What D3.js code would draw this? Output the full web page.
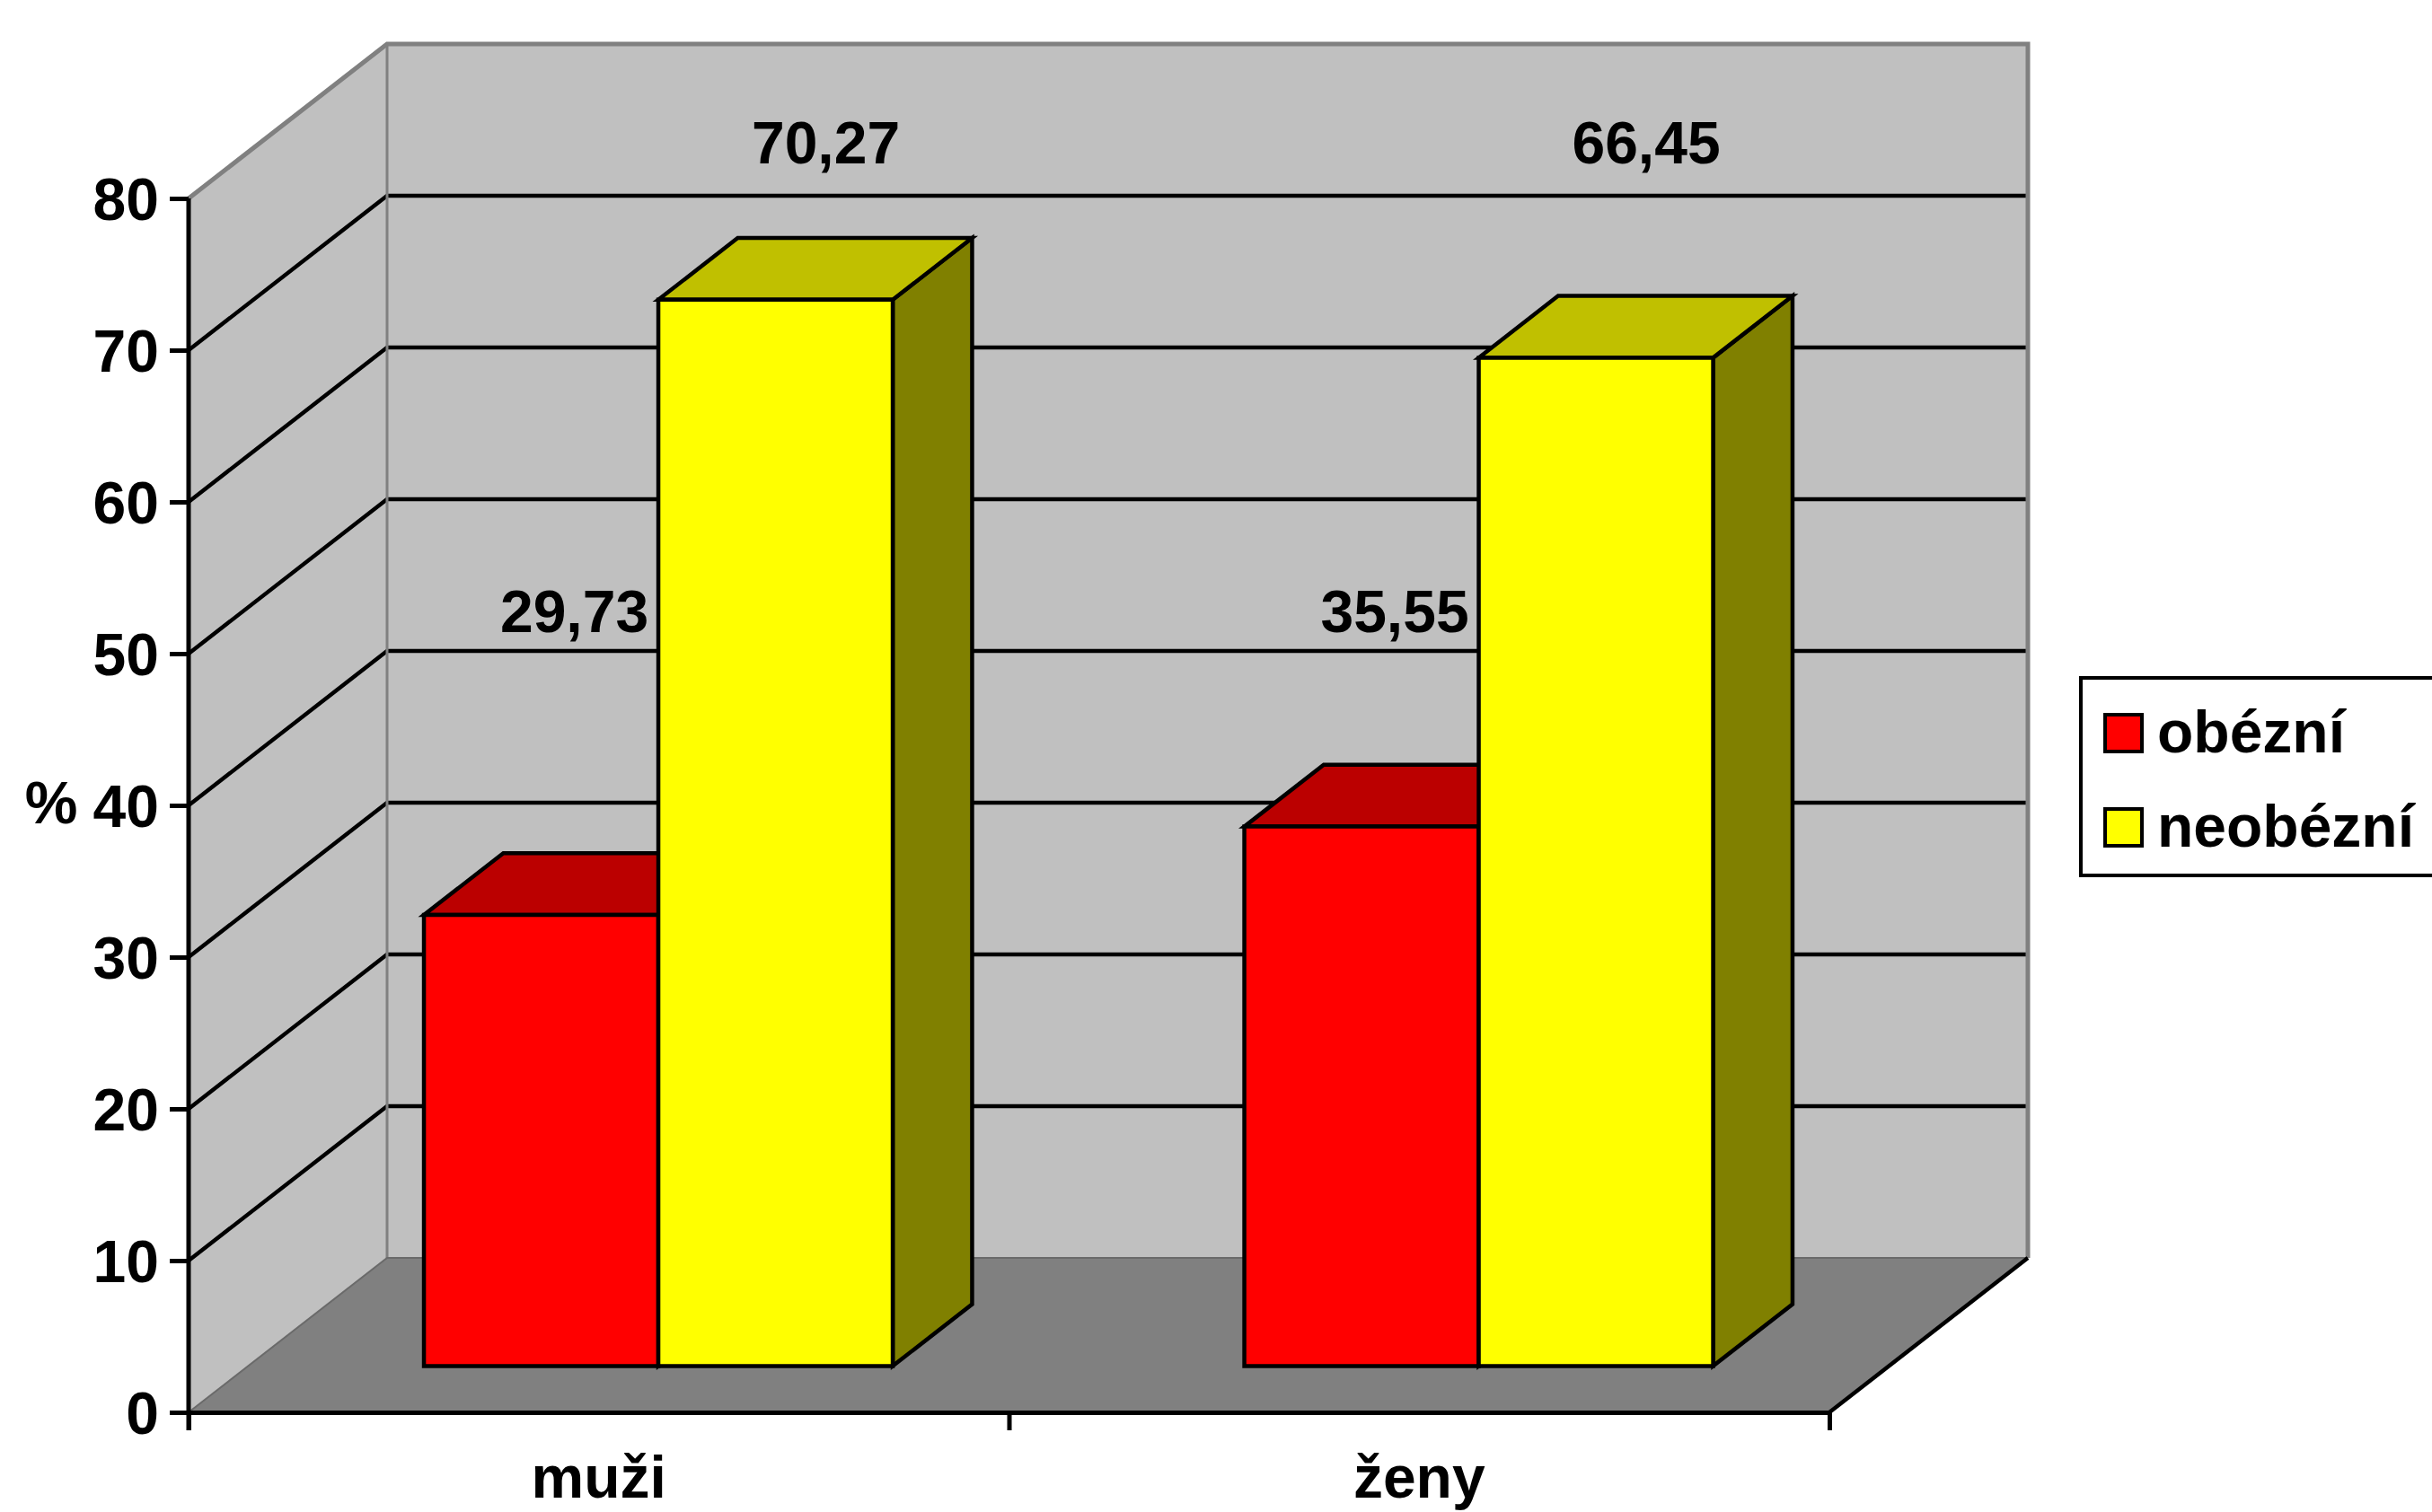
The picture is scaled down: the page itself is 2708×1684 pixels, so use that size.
<!DOCTYPE html>
<html>
<head>
<meta charset="utf-8">
<script src="https://cdn.jsdelivr.net/npm/d3@7"></script>
<style>
  html, body { margin: 0; padding: 0; background: #fff; }
  svg { display: block; }
  text { font-family: "Liberation Sans", Arial, sans-serif; font-weight: bold; fill: #000; }
</style>
</head>
<body>
<svg id="chart" width="2708" height="1684"></svg>
<script>
// Podíl obézních a neobézních osob podle pohlaví (%)
const categories = ["muži", "ženy"];
const seriesNames = ["obézní", "neobézní"];
const obezni = [29.73, 35.55];
const neobezni = [70.27, 66.45];
const yTicks = [0, 10, 20, 30, 40, 50, 60, 70, 80];

const seriesValues = [obezni, neobezni];
const seriesFill = ["#ff0000", "#ffff00"];
const seriesTop = ["#bb0000", "#c0c000"];
const seriesSide = ["#800000", "#808000"];

const czech = d3.formatLocale({ decimal: ",", thousands: " ", grouping: [3], currency: ["", " Kč"] });
const fmt = czech.format(".2f");

const svg = d3.select("#chart");
const W = 2708, H = 1684;
svg.append("rect").attr("width", W).attr("height", H).attr("fill", "#fff");

// front plane of the plot box
const X0 = 210, X1 = 2037;
const y = d3.scaleLinear().domain([0, 80]).range([1573, 221]);
// oblique depth vector (front -> back of the box)
const DX = 221, DY = -172;
const BAR_FRONT = 0.3, BAR_DEPTH = 0.4;

const x = d3.scaleBand().domain(categories).range([X0, X1]).padding(0);
const xs = d3.scaleBand().domain(seriesNames).range([0, x.bandwidth()])
  .paddingInner(0).paddingOuter(0.75);

const shift = (p, f) => [p[0] + f * DX, p[1] + f * DY];
const poly = pts => "M" + pts.map(p => p.join(",")).join("L") + "Z";
const line = d3.line();

const yTop = y(80), yBase = y(0);

// side wall
svg.append("path")
  .attr("d", poly([[X0, yBase], [X0, yTop], shift([X0, yTop], 1), shift([X0, yBase], 1)]))
  .attr("fill", "#c0c0c0");
// back wall
svg.append("path")
  .attr("d", poly([shift([X0, yTop], 1), shift([X1, yTop], 1), shift([X1, yBase], 1), shift([X0, yBase], 1)]))
  .attr("fill", "#c0c0c0");

// gridlines across the side and back walls
const grid = svg.append("g");
yTicks.filter(v => v > 0 && v < 80).forEach(v => {
  grid.append("path")
    .attr("d", line([[X0, y(v)], shift([X0, y(v)], 1), shift([X1, y(v)], 1)]))
    .attr("fill", "none").attr("stroke", "#000").attr("stroke-width", 4.5);
});

// wall edges
svg.append("path")
  .attr("d", line([[X0, yTop], shift([X0, yTop], 1), shift([X1, yTop], 1), shift([X1, yBase], 1)]))
  .attr("fill", "none").attr("stroke", "#808080").attr("stroke-width", 5)
  .attr("stroke-linejoin", "miter");
svg.append("path")
  .attr("d", line([shift([X0, yTop], 1), shift([X0, yBase], 1)]))
  .attr("stroke", "#808080").attr("stroke-width", 3);

// floor
svg.append("path")
  .attr("d", poly([[X0, yBase], [X1, yBase], shift([X1, yBase], 1), shift([X0, yBase], 1)]))
  .attr("fill", "#808080");
svg.append("path")
  .attr("d", line([[X0, yBase], shift([X0, yBase], 1), shift([X1, yBase], 1)]))
  .attr("fill", "none").attr("stroke", "#6a6a6a").attr("stroke-width", 2);
svg.append("path")
  .attr("d", line([[X1, yBase], shift([X1, yBase], 1)]))
  .attr("stroke", "#000").attr("stroke-width", 4.5);

// bars
const bars = svg.append("g");
categories.forEach((c, i) => {
  seriesNames.forEach((s, j) => {
    const v = seriesValues[j][i];
    const xl = x(c) + xs(s), xr = xl + xs.bandwidth();
    const fl = shift([xl, y(0)], BAR_FRONT), fr = shift([xr, y(0)], BAR_FRONT);
    const tl = shift([xl, y(v)], BAR_FRONT), tr = shift([xr, y(v)], BAR_FRONT);
    const d = BAR_DEPTH;
    const g = bars.append("g")
      .attr("stroke", "#000").attr("stroke-width", 4.5).attr("stroke-linejoin", "miter");
    g.append("path").attr("d", poly([fr, tr, shift(tr, d), shift(fr, d)])).attr("fill", seriesSide[j]);
    g.append("path").attr("d", poly([tl, tr, shift(tr, d), shift(tl, d)])).attr("fill", seriesTop[j]);
    g.append("path").attr("d", poly([fl, tl, tr, fr])).attr("fill", seriesFill[j]);
  });
});

// value labels
const labelLevel = [51.4, 82.3];
const labelNudge = [37, 56];
categories.forEach((c, i) => {
  seriesNames.forEach((s, j) => {
    const v = seriesValues[j][i];
    const cx = x(c) + xs(s) + xs.bandwidth() / 2 + BAR_FRONT * DX + labelNudge[j];
    svg.append("text")
      .attr("x", cx).attr("y", y(labelLevel[j]))
      .attr("text-anchor", "middle").attr("font-size", 66)
      .text(fmt(v));
  });
});

// y axis
const yAxis = svg.append("g").attr("transform", `translate(${X0},0)`)
  .call(d3.axisLeft(y).tickValues(yTicks).tickSize(21).tickSizeOuter(0).tickPadding(12)
    .tickFormat(d3.format("d")));
yAxis.select(".domain").remove();
yAxis.selectAll(".tick line").attr("stroke", "#000").attr("stroke-width", 5);
yAxis.selectAll(".tick text")
  .attr("font-size", 66).attr("font-family", "Liberation Sans, Arial, sans-serif")
  .attr("font-weight", "bold").attr("fill", "#000").attr("dy", "0.36em");
svg.append("line").attr("x1", X0).attr("x2", X0).attr("y1", yTop).attr("y2", yBase + 20)
  .attr("stroke", "#000").attr("stroke-width", 5);

// x axis
const xLin = d3.scaleLinear().domain([0, categories.length]).range([X0, X1]);
const xAxis = svg.append("g").attr("transform", `translate(0,${yBase})`)
  .call(d3.axisBottom(xLin).tickValues(d3.range(categories.length + 1)).tickSize(20)
    .tickSizeOuter(0).tickFormat(""));
xAxis.select(".domain").attr("stroke", "#000").attr("stroke-width", 5);
xAxis.selectAll(".tick line").attr("stroke", "#000").attr("stroke-width", 5);
const xLabels = svg.append("g").attr("transform", `translate(0,${yBase})`)
  .call(d3.axisBottom(x).tickSize(0).tickPadding(48));
xLabels.select(".domain").remove();
xLabels.selectAll(".tick text")
  .attr("font-size", 66).attr("font-family", "Liberation Sans, Arial, sans-serif")
  .attr("font-weight", "bold").attr("fill", "#000");

// axis title
svg.append("text").attr("x", 57).attr("y", 893).attr("dy", "0.36em")
  .attr("text-anchor", "middle").attr("font-size", 66).text("%");

// legend
const lg = svg.append("g");
lg.append("rect").attr("x", 2317).attr("y", 755).attr("width", 420).attr("height", 220)
  .attr("fill", "#fff").attr("stroke", "#000").attr("stroke-width", 4);
seriesNames.forEach((s, j) => {
  const yy = 838 + j * 105;
  lg.append("rect").attr("x", 2344).attr("y", yy - 42).attr("width", 41).attr("height", 41)
    .attr("fill", seriesFill[j]).attr("stroke", "#000").attr("stroke-width", 4);
  lg.append("text").attr("x", 2402).attr("y", yy).attr("font-size", 66).text(s);
});
</script>
</body>
</html>
